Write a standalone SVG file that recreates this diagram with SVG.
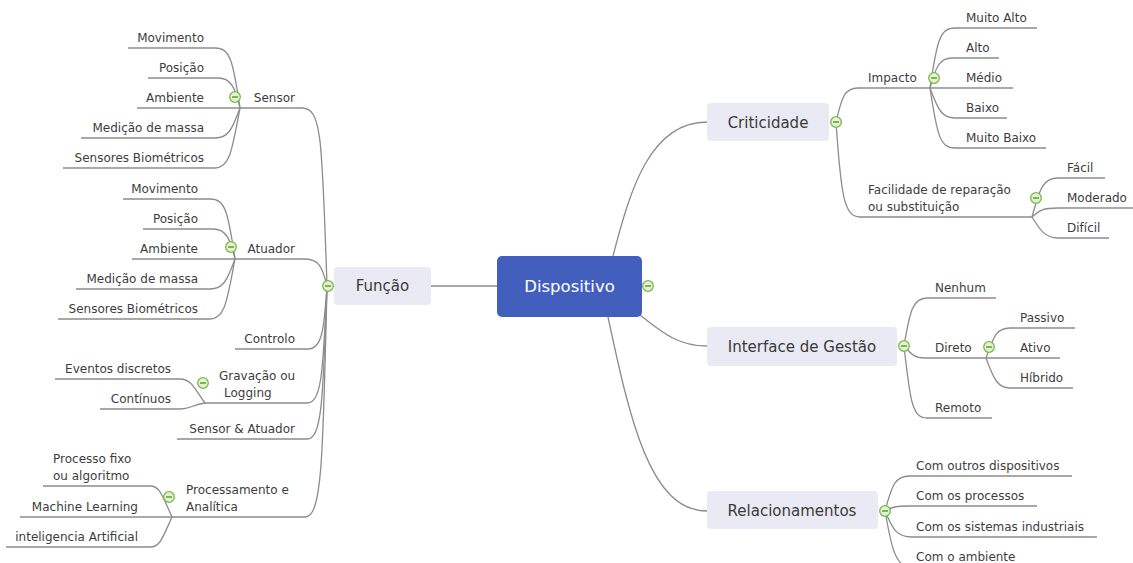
<svg xmlns="http://www.w3.org/2000/svg" xmlns:xlink="http://www.w3.org/1999/xlink" width="1133" height="563" viewBox="0 0 1133 563">
  <style>
    .ln { fill: none; stroke: #8c8c8c; stroke-width: 1.3; }
    .t { font-family: "DejaVu Sans", Verdana, sans-serif; font-size: 12px; fill: #3d3d3d; }
    .e { text-anchor: end; }
    .main { fill: #e9eaf3; }
    .mt { font-family: "DejaVu Sans", Verdana, sans-serif; font-size: 15px; fill: #3a3a3a; text-anchor: middle; }
    .ct { font-family: "DejaVu Sans", Verdana, sans-serif; font-size: 16.5px; fill: #ffffff; text-anchor: middle; }
  </style>
  <defs>
    <g id="minus">
      <circle r="5.3" fill="#e2f2d2" stroke="#78b84a" stroke-width="1.3"/>
      <line x1="-3" y1="0" x2="3" y2="0" stroke="#5c9c34" stroke-width="1.5"/>
    </g>
  </defs>
  <rect width="1133" height="563" fill="#ffffff"/>

  <g id="connectors">
    <!-- centre to main topics -->
    <path class="ln" d="M497,286 H431"/>
    <path class="ln" d="M613,256 C630,190 650,122 707,122"/>
    <path class="ln" d="M640,315 C665,335 680,346 707,346"/>
    <path class="ln" d="M608,317 C630,420 650,511 707,511"/>

    <!-- Função branches -->
    <path class="ln" d="M327,286 C322,140 322,108 302,108 H240"/>
    <path class="ln" d="M327,286 C322,265 318,259 304,259 H235"/>
    <path class="ln" d="M327,286 C324,330 322,349 308,349 H235"/>
    <path class="ln" d="M327,286 C323,370 322,403 307,403 H205"/>
    <path class="ln" d="M327,286 C323,400 322,439 307,439 H177"/>
    <path class="ln" d="M327,286 C323,460 322,517 305,517 H172"/>

    <!-- Sensor children -->
    <path class="ln" d="M240,108 C233,60 230,48 215,48 H128"/>
    <path class="ln" d="M240,108 C235,86 230,78 218,78 H148"/>
    <path class="ln" d="M240,108 H137"/>
    <path class="ln" d="M240,108 C232,130 228,138 215,138 H81"/>
    <path class="ln" d="M240,108 C232,150 230,168 215,168 H63"/>

    <!-- Atuador children -->
    <path class="ln" d="M235,259 C228,211 225,199 210,199 H123"/>
    <path class="ln" d="M235,259 C230,237 225,229 213,229 H143"/>
    <path class="ln" d="M235,259 H132"/>
    <path class="ln" d="M235,259 C227,281 223,289 210,289 H76"/>
    <path class="ln" d="M235,259 C227,301 225,319 210,319 H58"/>

    <!-- Gravação children -->
    <path class="ln" d="M205,403 C195,390 192,379 180,379 H55"/>
    <path class="ln" d="M205,403 C192,405 190,409 180,409 H100"/>

    <!-- Processamento children -->
    <path class="ln" d="M172,517 C162,495 160,486 150,486 H43"/>
    <path class="ln" d="M172,517 H20"/>
    <path class="ln" d="M172,517 C162,539 160,547 150,547 H6"/>

    <!-- Criticidade branches -->
    <path class="ln" d="M836,122 C842,96 845,88 858,88 H930"/>
    <path class="ln" d="M836,122 C841,195 844,217 860,217 H1032"/>
    <path class="ln" d="M930,88 C937,40 940,28 955,28 H1037"/>
    <path class="ln" d="M930,88 C936,66 940,58 952,58 H999"/>
    <path class="ln" d="M930,88 H1013"/>
    <path class="ln" d="M930,88 C938,110 942,118 955,118 H1007"/>
    <path class="ln" d="M930,88 C937,135 940,148 955,148 H1046"/>
    <path class="ln" d="M1032,217 C1040,188 1043,178 1058,178 H1105"/>
    <path class="ln" d="M1032,217 C1040,210 1043,208 1058,208 H1133"/>
    <path class="ln" d="M1032,217 C1040,230 1045,238 1058,238 H1109"/>

    <!-- Interface de Gestão branches -->
    <path class="ln" d="M904,346 C910,310 913,298 927,298 H996"/>
    <path class="ln" d="M904,346 C912,355 915,358 925,358 H986"/>
    <path class="ln" d="M904,346 C910,400 912,418 927,418 H992"/>
    <path class="ln" d="M986,358 C994,335 997,328 1010,328 H1075"/>
    <path class="ln" d="M986,358 H1060"/>
    <path class="ln" d="M986,358 C994,380 998,388 1010,388 H1073"/>

    <!-- Relacionamentos branches -->
    <path class="ln" d="M885,511 C892,485 895,476 910,476 H1072"/>
    <path class="ln" d="M885,511 C892,507 896,506 910,506 H1037"/>
    <path class="ln" d="M885,511 C893,530 897,537 912,537 H1097"/>
    <path class="ln" d="M885,511 C891,545 895,567 910,567 H1060"/>
  </g>

  <!-- central topic -->
  <g id="node-dispositivo">
    <rect x="497" y="256" width="145" height="61" rx="5" fill="#435fbe"/>
    <text class="ct" x="569.5" y="292">Dispositivo</text>
    <use xlink:href="#minus" x="648" y="286"/>
  </g>

  <!-- main topics -->
  <g id="node-funcao">
    <rect class="main" x="334" y="267" width="97" height="38" rx="4"/>
    <text class="mt" x="382.5" y="291">Função</text>
    <use xlink:href="#minus" x="328" y="286"/>
  </g>
  <g id="node-criticidade">
    <rect class="main" x="707" y="103" width="122" height="38" rx="4"/>
    <text class="mt" x="768" y="128">Criticidade</text>
    <use xlink:href="#minus" x="836" y="122"/>
  </g>
  <g id="node-interface">
    <rect class="main" x="707" y="327" width="190" height="39" rx="4"/>
    <text class="mt" x="802" y="352">Interface de Gestão</text>
    <use xlink:href="#minus" x="904" y="346"/>
  </g>
  <g id="node-relacionamentos">
    <rect class="main" x="707" y="491" width="171" height="38" rx="4"/>
    <text class="mt" x="792" y="516">Relacionamentos</text>
    <use xlink:href="#minus" x="885" y="511"/>
  </g>

  <!-- Função subtopics -->
  <g id="node-sensor">
    <text class="t e" x="295" y="102">Sensor</text>
    <use xlink:href="#minus" x="235" y="97"/>
  </g>
  <g id="node-sensor-movimento"><text class="t e" x="204" y="42">Movimento</text></g>
  <g id="node-sensor-posicao"><text class="t e" x="204" y="72">Posição</text></g>
  <g id="node-sensor-ambiente"><text class="t e" x="204" y="102">Ambiente</text></g>
  <g id="node-sensor-massa"><text class="t e" x="204" y="132">Medição de massa</text></g>
  <g id="node-sensor-bio"><text class="t e" x="204" y="162">Sensores Biométricos</text></g>

  <g id="node-atuador">
    <text class="t e" x="295" y="253">Atuador</text>
    <use xlink:href="#minus" x="231" y="247"/>
  </g>
  <g id="node-atuador-movimento"><text class="t e" x="198" y="193">Movimento</text></g>
  <g id="node-atuador-posicao"><text class="t e" x="198" y="223">Posição</text></g>
  <g id="node-atuador-ambiente"><text class="t e" x="198" y="253">Ambiente</text></g>
  <g id="node-atuador-massa"><text class="t e" x="198" y="283">Medição de massa</text></g>
  <g id="node-atuador-bio"><text class="t e" x="198" y="313">Sensores Biométricos</text></g>

  <g id="node-controlo"><text class="t e" x="295" y="343">Controlo</text></g>

  <g id="node-gravacao">
    <text class="t" x="219" y="380">Gravação ou</text>
    <text class="t" x="224" y="397">Logging</text>
    <use xlink:href="#minus" x="203" y="383"/>
  </g>
  <g id="node-eventos"><text class="t e" x="171" y="373">Eventos discretos</text></g>
  <g id="node-continuos"><text class="t e" x="171" y="403">Contínuos</text></g>

  <g id="node-sensor-atuador"><text class="t e" x="295" y="433">Sensor &amp; Atuador</text></g>

  <g id="node-processamento">
    <text class="t" x="186" y="494">Processamento e</text>
    <text class="t" x="186" y="511">Analítica</text>
    <use xlink:href="#minus" x="169" y="497"/>
  </g>
  <g id="node-processo-fixo">
    <text class="t" x="53" y="463">Processo fixo</text>
    <text class="t" x="53" y="480">ou algoritmo</text>
  </g>
  <g id="node-ml"><text class="t e" x="138" y="511">Machine Learning</text></g>
  <g id="node-ia"><text class="t e" x="138" y="541">inteligencia Artificial</text></g>

  <!-- Criticidade subtopics -->
  <g id="node-impacto">
    <text class="t" x="868" y="82">Impacto</text>
    <use xlink:href="#minus" x="934" y="78"/>
  </g>
  <g id="node-muito-alto"><text class="t" x="966" y="22">Muito Alto</text></g>
  <g id="node-alto"><text class="t" x="966" y="52">Alto</text></g>
  <g id="node-medio"><text class="t" x="966" y="82">Médio</text></g>
  <g id="node-baixo"><text class="t" x="966" y="112">Baixo</text></g>
  <g id="node-muito-baixo"><text class="t" x="966" y="142">Muito Baixo</text></g>

  <g id="node-facilidade">
    <text class="t" x="868" y="194">Facilidade de reparação</text>
    <text class="t" x="868" y="211">ou substituição</text>
    <use xlink:href="#minus" x="1036" y="198"/>
  </g>
  <g id="node-facil"><text class="t" x="1067" y="172">Fácil</text></g>
  <g id="node-moderado"><text class="t" x="1067" y="202">Moderado</text></g>
  <g id="node-dificil"><text class="t" x="1067" y="232">Difícil</text></g>

  <!-- Interface de Gestão subtopics -->
  <g id="node-nenhum"><text class="t" x="935" y="292">Nenhum</text></g>
  <g id="node-direto">
    <text class="t" x="935" y="352">Direto</text>
    <use xlink:href="#minus" x="989" y="347"/>
  </g>
  <g id="node-passivo"><text class="t" x="1020" y="322">Passivo</text></g>
  <g id="node-ativo"><text class="t" x="1020" y="352">Ativo</text></g>
  <g id="node-hibrido"><text class="t" x="1020" y="382">Híbrido</text></g>
  <g id="node-remoto"><text class="t" x="935" y="412">Remoto</text></g>

  <!-- Relacionamentos subtopics -->
  <g id="node-rel-dispositivos"><text class="t" x="916" y="470">Com outros dispositivos</text></g>
  <g id="node-rel-processos"><text class="t" x="916" y="500">Com os processos</text></g>
  <g id="node-rel-sistemas"><text class="t" x="916" y="531">Com os sistemas industriais</text></g>
  <g id="node-rel-ambiente"><text class="t" x="916" y="561">Com o ambiente</text></g>
</svg>
